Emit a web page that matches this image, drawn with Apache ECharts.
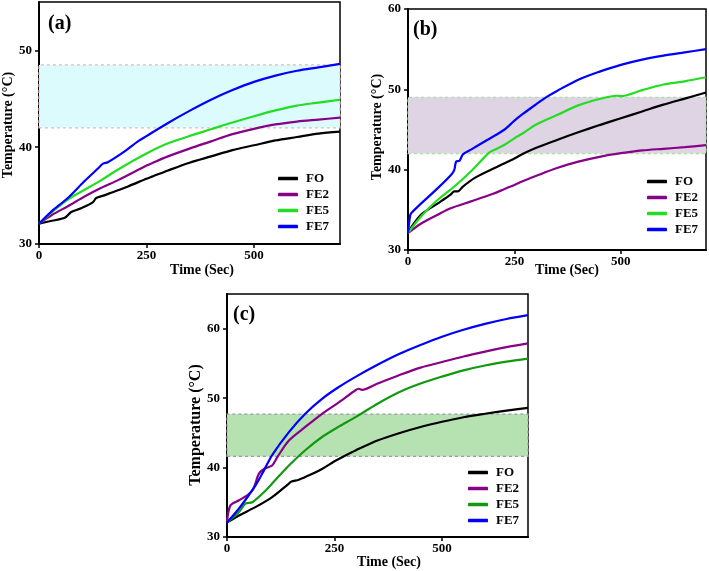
<!DOCTYPE html>
<html>
<head>
<meta charset="utf-8">
<script src="https://cdn.jsdelivr.net/npm/echarts@6/dist/echarts.min.js"></script>
<style>
html,body{margin:0;padding:0;background:#fff;}
#chart{width:709px;height:571px;}
</style>
</head>
<body>
<div id="chart"></div>
<script>
// ---------- Data ----------
var seriesNames = ['FO', 'FE2', 'FE5', 'FE7'];
var xTicks = [0, 250, 500];
var yTicksA = [30, 40, 50];
var yTicksB = [30, 40, 50, 60];
var yTicksC = [30, 40, 50, 60];

// Panel (a)
var tA_FO  = [0, 30, 60, 75, 98, 125, 133, 150, 168, 207, 250, 265, 300, 350, 400, 450, 500, 550, 600, 650, 700];
var vA_FO  = [32.1, 32.4, 32.7, 33.3, 33.7, 34.3, 34.75, 35.0, 35.3, 35.95, 36.75, 37.0, 37.6, 38.4, 39.05, 39.7, 40.2, 40.7, 41.05, 41.4, 41.6];
var tA_FE2 = [0, 30, 67, 106, 145, 184, 250, 265, 300, 350, 400, 450, 500, 550, 600, 650, 700];
var vA_FE2 = [32.1, 33.0, 33.9, 34.9, 35.8, 36.6, 38.1, 38.4, 39.05, 39.85, 40.6, 41.35, 41.9, 42.35, 42.65, 42.85, 43.05];
var tA_FE5 = [0, 30, 67, 106, 145, 184, 250, 300, 350, 400, 450, 500, 550, 600, 650, 700];
var vA_FE5 = [32.1, 33.3, 34.6, 35.6, 36.6, 37.7, 39.35, 40.4, 41.15, 41.85, 42.55, 43.2, 43.8, 44.3, 44.6, 44.9];
var tA_FE7 = [0, 30, 67, 106, 137, 149, 160, 200, 230, 250, 300, 350, 400, 450, 500, 550, 600, 650, 700];
var vA_FE7 = [32.1, 33.4, 34.75, 36.5, 37.8, 38.3, 38.45, 39.6, 40.6, 41.15, 42.5, 43.75, 44.9, 45.9, 46.75, 47.4, 47.9, 48.25, 48.6];

// Panel (b)
var tB_FO  = [0, 31, 70, 100, 109, 117, 129, 156, 195, 227, 250, 269, 300, 350, 400, 450, 500, 550, 600, 650, 700];
var vB_FO  = [32.2, 34.4, 35.8, 36.9, 37.3, 37.3, 37.9, 38.95, 40.0, 40.8, 41.4, 41.95, 42.7, 43.7, 44.65, 45.55, 46.4, 47.25, 48.1, 48.85, 49.6];
var tB_FE2 = [0, 31, 70, 100, 148, 200, 227, 250, 269, 300, 350, 400, 450, 500, 550, 600, 650, 700];
var vB_FE2 = [32.1, 33.3, 34.4, 35.2, 36.05, 37.0, 37.6, 38.1, 38.55, 39.2, 40.2, 41.0, 41.6, 42.05, 42.4, 42.6, 42.8, 43.05];
var tB_FE5 = [0, 31, 70, 109, 148, 188, 200, 227, 250, 269, 300, 350, 400, 450, 490, 500, 550, 600, 650, 700];
var vB_FE5 = [32.1, 34.2, 36.25, 37.9, 39.8, 42.0, 42.4, 43.1, 43.9, 44.5, 45.6, 46.8, 48.0, 48.8, 49.2, 49.15, 49.9, 50.6, 51.0, 51.5];
var tB_FE7 = [0, 5, 8, 23, 70, 102, 109, 113, 121, 129, 148, 188, 227, 250, 269, 300, 324, 350, 400, 450, 500, 550, 600, 650, 700];
var vB_FE7 = [32.1, 34.3, 34.6, 35.4, 37.7, 39.4, 40.0, 41.0, 41.1, 41.9, 42.5, 43.75, 45.0, 46.1, 46.9, 48.1, 49.0, 49.8, 51.2, 52.2, 53.05, 53.7, 54.2, 54.6, 55.0];

// Panel (c)
var tC_FO  = [0, 28, 66, 105, 144, 150, 167, 200, 221, 250, 271, 300, 350, 400, 450, 500, 550, 600, 650, 700];
var vC_FO  = [32.1, 33.1, 34.3, 35.75, 37.7, 38.0, 38.25, 39.15, 39.8, 40.9, 41.6, 42.5, 43.9, 44.95, 45.85, 46.6, 47.25, 47.75, 48.2, 48.6];
var tC_FE2 = [0, 8, 28, 47, 59, 66, 74, 86, 105, 117, 144, 182, 221, 260, 298, 306, 314, 350, 400, 450, 500, 550, 600, 650, 700];
var vC_FE2 = [32.2, 34.55, 35.3, 36.0, 36.7, 37.7, 39.1, 39.8, 40.3, 41.5, 43.9, 45.85, 47.75, 49.4, 51.1, 51.35, 51.2, 52.1, 53.3, 54.4, 55.2, 56.0, 56.7, 57.35, 57.9];
var tC_FE5 = [0, 28, 43, 59, 90, 105, 144, 182, 221, 260, 300, 350, 400, 450, 500, 550, 600, 650, 700];
var vC_FE5 = [32.1, 33.6, 34.8, 35.0, 36.7, 37.7, 40.3, 42.5, 44.4, 45.9, 47.3, 49.2, 50.85, 52.1, 53.1, 54.0, 54.7, 55.25, 55.7];
var tC_FE7 = [0, 28, 66, 86, 105, 144, 182, 221, 260, 300, 350, 400, 450, 500, 550, 600, 650, 700];
var vC_FE7 = [32.1, 34.1, 37.4, 39.6, 41.8, 45.1, 47.75, 49.9, 51.6, 53.1, 54.8, 56.35, 57.65, 58.85, 59.85, 60.7, 61.4, 61.95];

// Shaded bands [low, high]
var bandA = [42, 48.5];
var bandB = [42, 49];
var bandC = [41.6, 47.7];

// ---------- Build ----------
function zip(t, v) { return t.map(function (x, i) { return [x, v[i]]; }); }
var FONT = '"Liberation Serif", "Times New Roman", serif';
var colorsAB = ['#000000', '#880088', '#22dd22', '#0000ff'];
var colorsC  = ['#000000', '#880088', '#119911', '#0000ff'];

var panels = [
  { key: 'a', data: [[tA_FO, vA_FO], [tA_FE2, vA_FE2], [tA_FE5, vA_FE5], [tA_FE7, vA_FE7]], colors: colorsAB,
    ymin: 30, ymax: 55, yt: yTicksA, band: bandA, bandColor: '#dcfbfd', bandBorder: '#f0b4b4',
    grid: { left: 39, top: 2, width: 301, height: 242 }, legend: { left: 278, top: 172 } },
  { key: 'b', data: [[tB_FO, vB_FO], [tB_FE2, vB_FE2], [tB_FE5, vB_FE5], [tB_FE7, vB_FE7]], colors: colorsAB,
    ymin: 30, ymax: 60, yt: yTicksB, band: bandB, bandColor: '#ded4e4', bandBorder: '#a8e0a0',
    grid: { left: 408, top: 9, width: 298, height: 241 }, legend: { left: 647, top: 175 } },
  { key: 'c', data: [[tC_FO, vC_FO], [tC_FE2, vC_FE2], [tC_FE5, vC_FE5], [tC_FE7, vC_FE7]], colors: colorsC,
    ymin: 30, ymax: 65, yt: yTicksC, band: bandC, bandColor: '#b6e2b2', bandBorder: '#9a9aa8',
    grid: { left: 227, top: 294, width: 301, height: 243 }, legend: { left: 468, top: 466 } }
];

var grids = [], xAxes = [], yAxes = [], series = [], legends = [];
panels.forEach(function (p, pi) {
  grids.push(Object.assign({ show: true, borderColor: '#000', borderWidth: 1.5, backgroundColor: 'transparent' }, p.grid));
  var axLine = { show: true, onZero: false, lineStyle: { color: '#000', width: 2 } };
  var tick = { show: true, inside: false, length: 4, lineStyle: { color: '#000', width: 1.5 } };
  xAxes.push({ type: 'value', gridIndex: pi, min: 0, max: 700,
    axisLine: axLine, axisTick: Object.assign({ customValues: xTicks }, tick),
    axisLabel: { customValues: xTicks, margin: 5, color: '#000', fontFamily: FONT, fontWeight: 'bold', fontSize: 13 },
    splitLine: { show: false } });
  yAxes.push({ type: 'value', gridIndex: pi, min: p.ymin, max: p.ymax,
    axisLine: axLine, axisTick: Object.assign({ customValues: p.yt }, tick),
    axisLabel: { customValues: p.yt, margin: 7, color: '#000', fontFamily: FONT, fontWeight: 'bold', fontSize: 13 },
    splitLine: { show: false } });
  var names = [];
  p.data.forEach(function (d, si) {
    var nm = seriesNames[si] + '|' + p.key;
    names.push(nm);
    var s = { type: 'line', name: nm, xAxisIndex: pi, yAxisIndex: pi, data: zip(d[0], d[1]),
      showSymbol: false, symbol: 'none', smooth: 0.3, color: p.colors[si],
      lineStyle: { width: 2.2, color: p.colors[si] }, z: 3 + si, animation: false };
    if (si === 0) {
      s.markArea = { silent: true, z: 1,
        itemStyle: { color: p.bandColor, borderColor: p.bandBorder, borderWidth: 1.2, borderType: [3, 3] },
        data: [[{ xAxis: 0, yAxis: p.band[0] }, { xAxis: 700, yAxis: p.band[1] }]] };
    }
    series.push(s);
  });
  legends.push({ orient: 'vertical', left: p.legend.left, top: p.legend.top, data: names,
    icon: 'roundRect', itemWidth: 20, itemHeight: 3.5, itemGap: 3, padding: 0, selectedMode: false,
    formatter: function (n) { return n.split('|')[0]; },
    textStyle: { color: '#000', fontFamily: FONT, fontWeight: 'bold', fontSize: 13, lineHeight: 13, padding: [0, 0, 0, 3] } });
});

function txt(str, x, y, size, rot) {
  return { type: 'text', x: x, y: y, rotation: rot || 0, silent: true,
    style: { text: str, x: 0, y: 0, align: 'center', verticalAlign: 'middle',
      font: 'bold ' + size + 'px ' + FONT, fill: '#000' } };
}
function lbl(str, x, y) {
  return { type: 'text', x: x, y: y, silent: true,
    style: { text: str, x: 0, y: 0, align: 'left', verticalAlign: 'middle',
      font: 'bold 20px ' + FONT, fill: '#000' } };
}
var R = Math.PI / 2;
var graphics = [
  lbl('(a)', 48, 24), lbl('(b)', 413, 30), lbl('(c)', 233, 315),
  txt('Time (Sec)', 202, 270, 14), txt('Time (Sec)', 567, 270, 14), txt('Time (Sec)', 389, 562, 14),
  txt('Temperature (°C)', 8, 125, 14, R), txt('Temperature (°C)', 377, 127, 14, R), txt('Temperature (°C)', 196, 425, 16, R)
];

var chart = echarts.init(document.getElementById('chart'), null, { renderer: 'canvas' });
chart.setOption({
  animation: false,
  backgroundColor: '#fff',
  grid: grids, xAxis: xAxes, yAxis: yAxes, series: series, legend: legends,
  graphic: graphics
});
</script>
</body>
</html>
